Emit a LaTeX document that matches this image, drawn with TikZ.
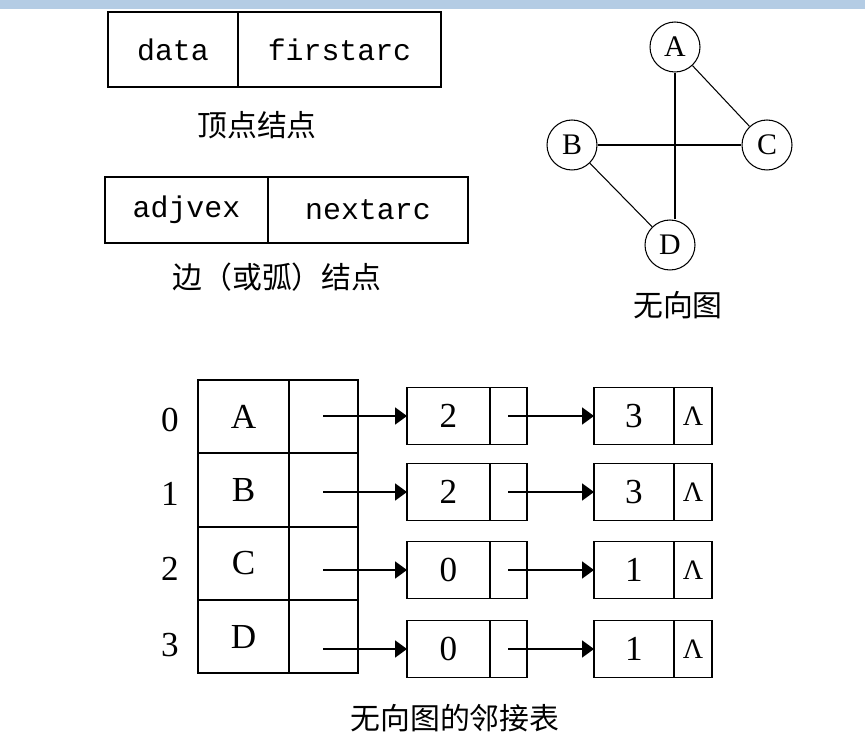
\documentclass[tikz,border=0pt]{standalone}
\usepackage{fontspec}
\setmainfont{Liberation Serif}
\newfontfamily\cjk{Noto Sans CJK SC}
\newfontfamily\mono{Liberation Mono}
\usepackage{tikz}
\usetikzlibrary{arrows.meta,positioning}
\definecolor{barblue}{HTML}{B4CCE4}

\begin{document}
\begin{tikzpicture}[x=0.02cm, y=-0.02cm, line width=1.1pt,
    field/.style={draw = black, inner sep=0pt, outer sep=0pt, font=\mono\fontsize{17}{17}\selectfont},
    cell/.style={draw = black, inner sep=0pt, outer sep=0pt, font=\fontsize{20}{20}\selectfont},
    vert/.style={circle, draw = black, line width=0.6pt, minimum size=1cm, inner sep=0pt,
        font=\fontsize{17}{17}\selectfont},
    caption/.style={font=\cjk\fontsize{17}{17}\selectfont},
    idx/.style={font=\fontsize{20}{20}\selectfont},
    nil/.style={font=\fontsize{16}{16}\selectfont},
    ptr/.style={-{Triangle[length=2.4mm,width=3.4mm]}}]

\fill[white] (0,0) rectangle (865,749);
\fill[barblue] (0,0) rectangle (865,9);
\useasboundingbox (0,0) rectangle (865,749);

% node layouts
\node[field, minimum width=2.6cm, minimum height=1.5cm](data) at (173,49.5){data};
\node[field, minimum width=4.06cm, minimum height=1.5cm, right=0pt of data](firstarc){firstarc};
\node[caption](vlabel) at (257,125){顶点结点};

\node[field, minimum width=3.26cm, minimum height=1.32cm](adjvex) at (186.5,210){adjvex};
\node[field, minimum width=4cm, minimum height=1.32cm, right=0pt of adjvex](nextarc){nextarc};
\node[caption](elabel) at (277,277){边（或弧）结点};

% the graph
\node[vert](A) at (675,47){A};
\node[vert](B) at (572,145){B};
\node[vert](C) at (767,145){C};
\node[vert](D) at (670,245){D};

\draw (A.south) -- (A.south |- D.north);
\draw (B.east) -- (C.west);
\draw[line width=0.6pt] (A) -- (C);
\draw[line width=0.6pt] (B) -- (D);

\node[caption](glabel) at (678,305){无向图};

% vertex table
\node[idx](i0) at (170,420){0};
\node[idx](i1) at (170,494){1};
\node[idx](i2) at (170,569){2};
\node[idx](i3) at (170,645){3};

\node[cell, minimum width=1.82cm, minimum height=1.465cm](v0) at (243.5,416.6){A};
\node[cell, minimum width=1.82cm, minimum height=1.465cm](v1) at (243.5,490){B};
\node[cell, minimum width=1.82cm, minimum height=1.465cm](v2) at (243.5,563.4){C};
\node[cell, minimum width=1.82cm, minimum height=1.465cm](v3) at (243.5,636.6){D};
\node[cell, minimum width=1.38cm, minimum height=1.465cm, right=0pt of v0](f0){};
\node[cell, minimum width=1.38cm, minimum height=1.465cm, right=0pt of v1](f1){};
\node[cell, minimum width=1.38cm, minimum height=1.465cm, right=0pt of v2](f2){};
\node[cell, minimum width=1.38cm, minimum height=1.465cm, right=0pt of v3](f3){};

% edge lists
\node[cell, minimum width=1.66cm, minimum height=1.14cm](e0) at (448.5,416){2};
\node[cell, minimum width=1.66cm, minimum height=1.14cm](e1) at (448.5,492){2};
\node[cell, minimum width=1.66cm, minimum height=1.14cm](e2) at (448.5,570){0};
\node[cell, minimum width=1.66cm, minimum height=1.14cm](e3) at (448.5,649){0};
\node[cell, minimum width=0.74cm, minimum height=1.14cm, right=0pt of e0](p0){};
\node[cell, minimum width=0.74cm, minimum height=1.14cm, right=0pt of e1](p1){};
\node[cell, minimum width=0.74cm, minimum height=1.14cm, right=0pt of e2](p2){};
\node[cell, minimum width=0.74cm, minimum height=1.14cm, right=0pt of e3](p3){};

\node[cell, minimum width=1.6cm, minimum height=1.14cm](r0) at (634,416){3};
\node[cell, minimum width=1.6cm, minimum height=1.14cm](r1) at (634,492){3};
\node[cell, minimum width=1.6cm, minimum height=1.14cm](r2) at (634,570){1};
\node[cell, minimum width=1.6cm, minimum height=1.14cm](r3) at (634,649){1};
\node[cell, nil, minimum width=0.76cm, minimum height=1.14cm, right=0pt of r0](q0){Λ};
\node[cell, nil, minimum width=0.76cm, minimum height=1.14cm, right=0pt of r1](q1){Λ};
\node[cell, nil, minimum width=0.76cm, minimum height=1.14cm, right=0pt of r2](q2){Λ};
\node[cell, nil, minimum width=0.76cm, minimum height=1.14cm, right=0pt of r3](q3){Λ};

\draw[ptr] (f0.center |- e0.west) -- (e0.west);
\draw[ptr] (f1.center |- e1.west) -- (e1.west);
\draw[ptr] (f2.center |- e2.west) -- (e2.west);
\draw[ptr] (f3.center |- e3.west) -- (e3.west);
\draw[ptr] (p0.center) -- (r0.west);
\draw[ptr] (p1.center) -- (r1.west);
\draw[ptr] (p2.center) -- (r2.west);
\draw[ptr] (p3.center) -- (r3.west);

\node[caption](tlabel) at (455,718){无向图的邻接表};

\end{tikzpicture}
\end{document}
